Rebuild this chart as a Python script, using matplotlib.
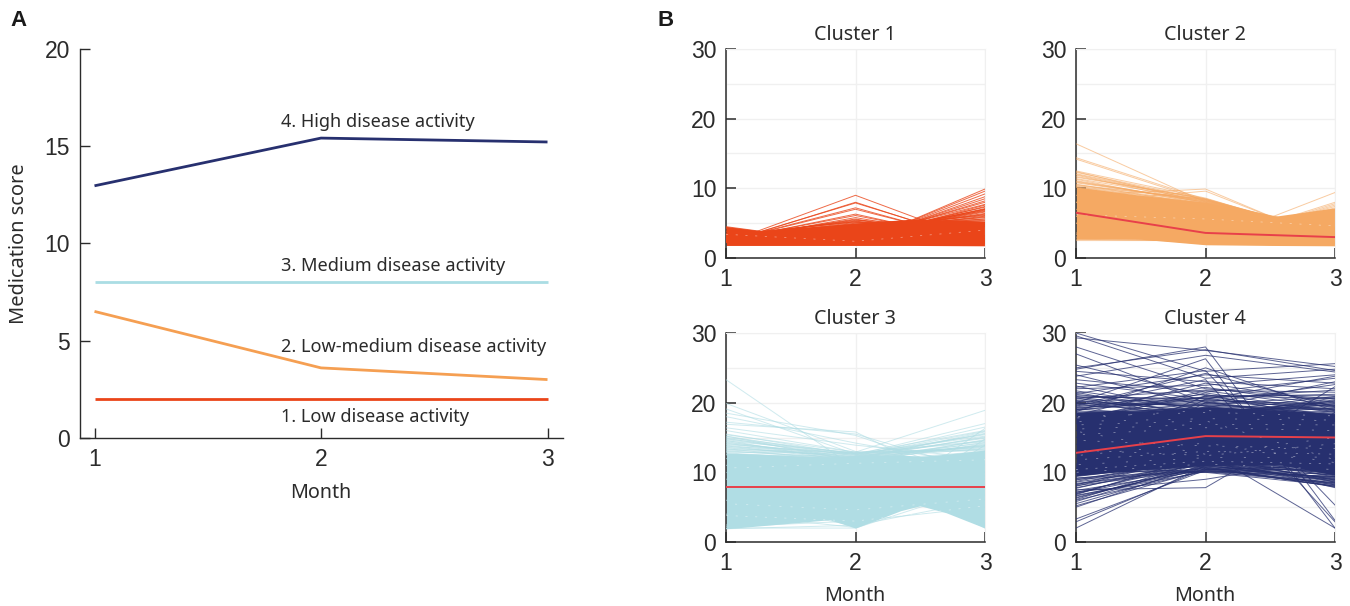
import matplotlib
matplotlib.use("Agg")
import matplotlib.pyplot as plt

W, H = 1350, 606
SANS = "Noto Sans"
NUM = "Liberation Sans"
INK = "#2b2b2b"

months = [1, 2, 3]
navy = "#27306f"
sky = "#b0dde4"
orange = "#f5a963"
red = "#ea4519"
meanred = "#e8404a"

# panel A
a_names = ["1. Low disease activity", "2. Low-medium disease activity",
           "3. Medium disease activity", "4. High disease activity"]
a_low = [2.0, 2.0, 2.0]
a_lowmed = [6.5, 3.6, 3.0]
a_med = [8.0, 8.0, 8.0]
a_high = [12.95, 15.4, 15.2]
a_yticks = [0, 5, 10, 15, 20]
b_yticks = [0, 10, 20, 30]

# cluster 1
c1_band_x = [1, 1.25, 2, 2.45, 3]
c1_band_lo = [1.8, 1.8, 1.8, 1.8, 1.75]
c1_band_hi = [4.5, 3.9, 5.0, 5.6, 5.3]
c1_m1 = [2.2, 2.2, 2.3, 2.4, 2.4, 2.5, 2.6, 2.5, 2.7, 2.8, 3.0, 3.2, 4.5, 4.4, 4.3, 4.2, 4.0, 3.8, 3.6, 3.4, 3.2, 3.0, 2.8, 2.6, 2.5, 2.4,
         3.0, 2.6, 2.9, 3.3, 2.7, 3.1, 2.4, 3.5, 2.8, 3.2, 2.5, 3.0, 2.7, 3.4, 2.6, 2.9, 3.1, 2.3, 2.8, 3.3]
c1_m2 = [9.0, 8.0, 7.9, 7.2, 7.0, 6.3, 6.1, 5.8, 5.6, 5.5, 5.3, 5.2, 2.0, 2.1, 2.2, 2.3, 2.5, 2.6, 2.8, 3.0, 3.1, 3.3, 3.5, 3.7, 3.9, 4.1,
         5.4, 5.0, 4.8, 4.6, 4.4, 4.3, 3.8, 3.4, 3.0, 2.7, 4.2, 4.9, 3.6, 3.2, 4.7, 5.1, 2.6, 4.0, 2.9, 5.2]
c1_m3 = [2.1, 2.0, 2.2, 2.1, 2.3, 2.2, 2.5, 2.6, 2.4, 2.8, 3.0, 3.2, 9.9, 9.6, 9.2, 8.8, 8.5, 8.2, 8.0, 7.7, 7.3, 7.0, 6.7, 6.4, 6.0, 5.6,
         4.6, 5.0, 5.3, 5.6, 5.8, 6.1, 6.3, 6.6, 7.1, 7.4, 6.2, 5.4, 6.8, 7.0, 5.1, 4.8, 7.6, 5.9, 6.9, 4.5]

# cluster 2
c2_band_x = [1, 1.5, 2, 2.5, 3]
c2_band_lo = [2.7, 2.7, 1.9, 1.8, 1.75]
c2_band_hi = [10.2, 9.0, 8.0, 5.9, 7.2]
c2_mean = [6.5, 3.6, 3.0]
c2_m1 = [16.4, 14.4, 14.2, 12.5, 12.3, 12.0, 11.7, 11.4, 11.1, 10.8, 10.5, 9.0, 8.0, 2.5, 2.7, 3.0, 3.4, 3.6, 5.0, 6.0,
         12.4, 12.1, 11.9, 11.6, 11.3, 11.0, 10.9, 10.6, 10.4, 10.2, 10.3, 10.1, 7.0, 6.0, 5.0, 8.0]
c2_m2 = [8.0, 8.4, 8.2, 8.6, 8.4, 8.1, 8.5, 8.3, 8.0, 8.2, 8.4, 9.9, 9.6, 2.5, 2.4, 2.3, 2.1, 2.0, 2.2, 2.3,
         7.9, 8.3, 7.8, 8.5, 7.7, 8.0, 8.2, 7.6, 8.4, 7.9, 8.1, 7.8, 2.0, 2.4, 2.8, 3.0]
c2_m3 = [3.8, 3.0, 3.5, 3.0, 3.6, 4.0, 3.2, 3.4, 4.2, 3.7, 3.1, 2.1, 2.3, 2.0, 2.1, 2.2, 8.0, 7.8, 9.4, 7.4,
         3.9, 3.2, 4.1, 3.3, 4.3, 3.6, 3.5, 4.4, 3.1, 3.8, 3.4, 4.0, 7.6, 7.2, 7.0, 6.8]

# cluster 3
c3_band_x = [1, 1.5, 1.8, 2, 2.35, 2.5, 2.7, 3]
c3_band_lo = [1.9, 2.7, 3.2, 2.0, 4.5, 5.2, 4.2, 2.0]
c3_band_hi = [12.8, 12.4, 12.2, 12.4, 12.5, 12.3, 12.6, 13.2]
c3_mean = [7.9, 7.9, 7.9]
c3_m1 = [23.3, 19.9, 19.1, 18.5, 18.0, 17.2, 16.9, 16.4, 16.0, 15.5, 15.2, 14.8, 14.4, 14.0, 13.6, 13.3, 2.0, 1.9, 2.2, 1.9, 2.4, 4.0, 6.0, 9.0, 10.0, 11.0, 12.0,
         15.4, 15.2, 15.0, 14.9, 14.7, 14.6, 14.5, 14.3, 14.2, 14.1, 13.9, 13.8, 13.7, 13.5, 13.4, 13.2, 13.1, 13.0, 12.9, 12.8, 12.6, 12.5]
c3_m2 = [10.6, 13.0, 12.6, 15.3, 14.2, 15.5, 15.8, 13.9, 12.9, 12.5, 12.3, 12.7, 11.9, 12.6, 12.2, 12.8, 2.0, 2.4, 3.0, 12.4, 12.2, 2.1, 2.3, 12.0, 11.5, 12.1, 3.5,
         12.9, 11.6, 12.7, 12.0, 12.4, 11.4, 12.8, 12.2, 11.8, 12.6, 12.0, 11.7, 12.9, 12.3, 11.5, 12.5, 11.9, 12.1, 12.7, 11.6, 12.2, 12.0]
c3_m3 = [8.0, 9.5, 10.0, 9.0, 11.0, 10.0, 6.7, 12.0, 18.9, 17.0, 16.5, 16.0, 15.8, 15.4, 15.0, 14.5, 8.0, 6.0, 5.0, 13.8, 14.2, 14.8, 13.9, 2.0, 2.3, 2.6, 16.3,
         13.2, 14.0, 13.5, 15.6, 15.9, 14.7, 13.1, 13.7, 14.3, 15.2, 13.4, 14.6, 13.3, 15.5, 14.1, 13.6, 15.1, 13.9, 14.4, 13.0, 14.9, 13.8]

# cluster 4
c4_band_x = [1, 1.5, 2, 2.6, 3]
c4_band_lo = [9.5, 10.4, 11.0, 11.0, 9.6]
c4_band_hi = [18.6, 18.8, 19.4, 18.9, 18.4]
c4_mean = [12.8, 15.2, 15.0]
c4_m1 = [30.0, 29.6, 29.3, 28.0, 27.0, 25.4, 25.0, 24.5, 24.0, 23.3, 22.8, 22.4, 22.0, 21.7, 21.3, 21.0, 20.6, 20.3, 20.0, 19.8, 19.5, 19.2, 19.0, 18.7, 18.5,
         24.8, 23.8, 22.2, 20.8, 19.6, 18.2, 2.0, 2.9, 3.3, 5.0, 5.2, 5.5, 5.8, 6.0, 6.3, 6.6, 6.9, 7.2, 7.5, 7.8, 8.1, 8.4, 8.7, 9.0, 9.4, 9.8, 10.2,
         12.0, 14.0, 16.0, 11.0, 13.0, 15.0, 17.0, 10.5,
         21.2, 20.9, 20.4, 20.1, 19.9, 19.7, 19.4, 19.1, 18.9, 18.6, 18.4, 18.1, 17.9, 17.7, 17.5, 17.3, 17.1, 20.7, 19.3, 18.3, 18.8, 17.6, 21.5, 20.2, 19.0,
         6.1, 6.4, 6.8, 7.1, 7.4, 7.7, 8.0, 8.3, 8.6, 8.9, 9.2, 9.5, 9.7, 10.0, 10.3, 10.6, 10.9, 11.2, 7.0, 8.2, 9.1, 9.9, 10.4, 10.7, 6.7]
c4_m2 = [24.5, 23.5, 27.5, 22.0, 20.0, 21.0, 27.6, 23.0, 19.5, 21.5, 20.5, 18.5, 22.5, 19.0, 24.0, 20.3, 21.8, 18.8, 26.3, 19.8, 23.3, 20.8, 22.2, 25.0, 19.2,
         28.0, 26.8, 24.6, 20.6, 24.2, 22.8, 11.0, 10.6, 10.3, 11.2, 10.4, 10.8, 11.5, 10.2, 11.0, 10.5, 12.0, 9.0, 7.8, 11.3, 10.4, 10.7, 12.2, 10.1, 11.6, 10.9, 10.0,
         13.0, 19.0, 12.0, 20.5, 21.0, 19.4, 10.5, 20.0,
         19.1, 18.2, 20.2, 17.8, 19.6, 18.6, 21.2, 17.9, 20.7, 18.9, 19.3, 18.1, 20.9, 19.7, 18.4, 21.4, 18.7, 17.7, 20.1, 19.9, 18.3, 21.7, 18.0, 19.5, 20.4,
         11.7, 10.9, 12.4, 11.4, 10.3, 11.9, 12.6, 10.6, 11.1, 12.1, 10.2, 11.6, 12.9, 10.8, 11.3, 12.3, 10.0, 11.8, 10.7, 12.7, 11.2, 10.4, 12.5, 11.0, 10.1]
c4_m3 = [25.6, 24.8, 25.2, 20.5, 19.5, 21.0, 24.6, 22.0, 18.5, 23.5, 19.0, 20.2, 24.0, 18.2, 22.8, 19.8, 21.5, 19.2, 2.0, 20.8, 2.9, 21.2, 19.6, 18.8, 23.0,
         3.1, 24.4, 5.3, 21.8, 19.4, 20.0, 22.3, 8.0, 9.0, 8.2, 8.5, 7.9, 10.0, 9.4, 8.8, 10.4, 9.7, 12.0, 18.6, 8.6, 11.0, 9.2, 7.8, 8.4, 10.8, 9.6, 8.1,
         2.0, 18.4, 8.9, 23.8, 20.6, 18.0, 9.3, 22.6,
         18.3, 19.2, 17.7, 20.3, 18.9, 19.7, 17.5, 20.7, 18.1, 19.4, 17.9, 20.1, 18.6, 19.0, 17.3, 18.7, 20.9, 19.9, 17.6, 18.2, 20.4, 19.3, 18.8, 17.4, 19.6,
         8.3, 9.1, 10.2, 8.7, 11.1, 9.5, 10.5, 8.0, 9.9, 10.9, 8.5, 11.4, 9.3, 10.1, 8.9, 11.7, 10.7, 9.0, 8.2, 10.3, 11.2, 9.7, 8.6, 10.6, 9.4]

# pale flecks between the lines, y at each month
c1_gap = [[3.4, 2.4, 4.0]]
c2_gap = [[6.2, 5.6, 4.6]]
c3_gap = [[3.8, 3.0, 5.2], [5.5, 4.6, 6.2], [10.6, 11.3, 11.8]]
c4_gap = [[10.4, 11.6, 11.2], [11.8, 13.0, 12.6], [13.2, 12.4, 14.1], [14.6, 13.8, 13.4], [15.4, 16.4, 16.0], [16.2, 16.9, 16.8],
          [16.8, 17.4, 11.8], [12.4, 14.2, 11.4], [15.9, 12.6, 15.0], [17.3, 17.7, 17.5], [11.1, 12.1, 12.2], [18.0, 18.6, 18.1],
          [17.8, 18.9, 17.2], [10.0, 11.2, 10.4]]


def make_axes(left, top, right, bottom):
    return fig.add_axes([left / W, 1 - bottom / H, (right - left) / W, (bottom - top) / H])


def put_text(x, y, s, **kw):
    fig.text(x / W, 1 - y / H, s, ha=kw.pop("ha", "center"), va=kw.pop("va", "center"),
             color=kw.pop("color", INK), **kw)


def style_cluster(ax):
    ax.set_xlim(1, 3)
    ax.set_ylim(0, 30)
    ax.set_xticks(months)
    ax.set_yticks(b_yticks)
    ax.set_yticks([5, 15, 25], minor=True)
    ax.grid(True, which="both", color="#f0f0f0", lw=1.0, zorder=0)
    ax.tick_params(which="minor", length=0)
    ax.tick_params(which="major", direction="in", length=7, width=1.1, color=INK, labelcolor=INK, pad=7)
    for lab in ax.get_xticklabels() + ax.get_yticklabels():
        lab.set_fontfamily(NUM)
        lab.set_fontsize(16.5)
    for side in ["top", "right"]:
        ax.spines[side].set_color("#f0f0f0")
    for side in ["left", "bottom"]:
        ax.spines[side].set_color(INK)
        ax.spines[side].set_linewidth(1.1)
    ax.set_axisbelow(True)


def draw_cluster(ax, color, band, m1, m2, m3, gaps, mean=None, alpha=0.6, lw=0.7):
    ax.fill_between(band[0], band[1], band[2], color=color, lw=0, zorder=2)
    for a, b, c in zip(m1, m2, m3):
        ax.plot(months, [a, b, c], color=color, lw=lw, alpha=alpha, zorder=3)
    for i, g in enumerate(gaps):
        ax.plot(months, g, color="white", lw=0.5, alpha=0.5, ls=(i * 3, (3, 11 + i * 2)), zorder=3.5)
    if mean is not None:
        ax.plot(months, mean, color=meanred, lw=1.4, zorder=4)
    style_cluster(ax)


fig = plt.figure(figsize=(W / 100, H / 100), dpi=100)

# panel A
ax = make_axes(79.5, 48.5, 563, 438)
ax.plot(months, a_high, color=navy, lw=2.0, solid_capstyle="butt")
ax.plot(months, a_med, color="#aadde4", lw=2.0, solid_capstyle="butt")
ax.plot(months, a_lowmed, color="#f59f52", lw=2.0, solid_capstyle="butt")
ax.plot(months, a_low, color=red, lw=2.0, solid_capstyle="butt")
ax.set_xlim(1 - 15 / 226.5, 3 + 15.5 / 226.5)
ax.set_ylim(0, 20)
ax.set_xticks(months)
ax.set_yticks(a_yticks)
ax.tick_params(direction="in", length=7, width=1.0, color=INK, labelcolor=INK, pad=7)
for lab in ax.get_xticklabels() + ax.get_yticklabels():
    lab.set_fontfamily(NUM)
    lab.set_fontsize(16.5)
for side in ["top", "right"]:
    ax.spines[side].set_visible(False)
for side in ["left", "bottom"]:
    ax.spines[side].set_color(INK)
    ax.spines[side].set_linewidth(1.0)
label_y = [1.08, 4.68, 8.85, 16.25]
for name, ly in zip(a_names, label_y):
    ax.text(1.825, ly, name, fontfamily=SANS, fontsize=13.1, color=INK, ha="left", va="center")

put_text(19, 244, "Medication score", rotation=90, fontfamily=SANS, fontsize=14.4)
put_text(321, 493, "Month", fontfamily=SANS, fontsize=14.2)
put_text(18.5, 20, "A", fontfamily=NUM, fontsize=16, fontweight="bold", color="#1a1a1a")
put_text(666, 20, "B", fontfamily=NUM, fontsize=16, fontweight="bold", color="#1a1a1a")

# panel B
ax1 = make_axes(726, 49, 985, 258)
draw_cluster(ax1, red, (c1_band_x, c1_band_lo, c1_band_hi), c1_m1, c1_m2, c1_m3, c1_gap, alpha=0.8)
ax2 = make_axes(1076, 49, 1335, 258)
draw_cluster(ax2, orange, (c2_band_x, c2_band_lo, c2_band_hi), c2_m1, c2_m2, c2_m3, c2_gap, mean=c2_mean)
ax3 = make_axes(726, 333, 985, 542)
draw_cluster(ax3, sky, (c3_band_x, c3_band_lo, c3_band_hi), c3_m1, c3_m2, c3_m3, c3_gap, mean=c3_mean)
ax4 = make_axes(1076, 333, 1335, 542)
draw_cluster(ax4, navy, (c4_band_x, c4_band_lo, c4_band_hi), c4_m1, c4_m2, c4_m3, c4_gap, mean=c4_mean, alpha=0.75)

for cx, cy, num in [(855, 35.5, 1), (1205, 35.5, 2), (855, 319.5, 3), (1205, 319.5, 4)]:
    put_text(cx, cy, f"Cluster {num}", fontfamily=SANS, fontsize=14.2)
put_text(855, 596, "Month", fontfamily=SANS, fontsize=14.2)
put_text(1205, 596, "Month", fontfamily=SANS, fontsize=14.2)

fig.savefig("out.png", dpi=100)
